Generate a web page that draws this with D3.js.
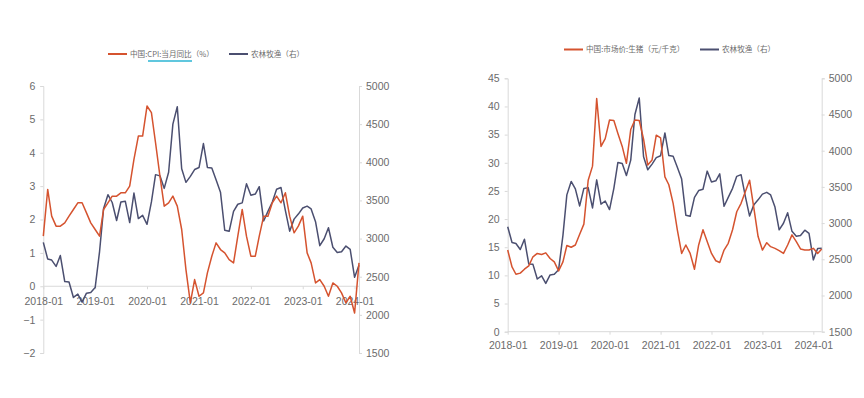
<!DOCTYPE html>
<html>
<head>
<meta charset="utf-8">
<script src="https://cdn.jsdelivr.net/npm/d3@7"></script>
<style>
  body { margin: 0; background: #fff; }
  svg { display: block; }
  .tick text { font-family: "Liberation Sans Narrow", "Liberation Sans", Arial, sans-serif; font-size: 10.5px; fill: #6b6b6b; }
  .legend text { font-family: "Noto Sans CJK SC", sans-serif; font-size: 7.6px; fill: #6b6b6b; }
</style>
</head>
<body>
<svg id="chart" width="864" height="398"></svg>
<script>
// months shown on both charts
var months = d3.timeMonth.range(new Date(2018, 0, 1), new Date(2024, 3, 1));
var yearTicks = ["2018-01", "2019-01", "2020-01", "2021-01", "2022-01", "2023-01", "2024-01"];

// 中国:CPI:当月同比 (%)
var cpi = [1.5, 2.9, 2.1, 1.8, 1.8, 1.9, 2.1, 2.3, 2.5, 2.5, 2.2, 1.9,
  1.7, 1.5, 2.3, 2.5, 2.7, 2.7, 2.8, 2.8, 3.0, 3.8, 4.5, 4.5,
  5.4, 5.2, 4.3, 3.3, 2.4, 2.5, 2.7, 2.4, 1.7, 0.5, -0.5, 0.2,
  -0.3, -0.2, 0.4, 0.9, 1.3, 1.1, 1.0, 0.8, 0.7, 1.5, 2.3, 1.5,
  0.9, 0.9, 1.5, 2.1, 2.1, 2.5, 2.7, 2.5, 2.8, 2.1, 1.6, 1.8,
  2.1, 1.0, 0.7, 0.1, 0.2, 0.0, -0.3, 0.1, 0.0, -0.2, -0.5, -0.3,
  -0.8, 0.7];

// 中国:市场价:生猪 (元/千克)
var hog = [14.5, 11.5, 10.2, 10.4, 11.1, 11.7, 13.3, 13.9, 13.7, 14.0, 13.0, 12.4,
  10.8, 12.4, 15.3, 15.0, 15.4, 17.3, 19.1, 26.9, 29.4, 41.4, 32.9, 34.3,
  37.6, 37.5, 35.2, 32.9, 29.9, 35.9, 37.6, 37.5, 34.2, 29.6, 30.5, 34.9,
  34.4, 27.5, 26.1, 22.8, 18.1, 13.9, 15.4, 13.9, 11.1, 15.4, 18.1, 16.0,
  13.9, 12.6, 12.3, 14.5, 15.7, 18.1, 21.3, 22.8, 24.9, 26.9, 21.9, 16.9,
  14.5, 15.8, 15.1, 14.8, 14.4, 13.9, 15.4, 17.2, 16.0, 14.7, 14.5, 14.5,
  14.8, 13.9, 14.7];

// 农林牧渔 (右)
var agri = [2950, 2732, 2718, 2635, 2778, 2436, 2430, 2228, 2272, 2167, 2284, 2292,
  2357, 2830, 3390, 3575, 3473, 3237, 3479, 3490, 3210, 3597, 3262, 3305,
  3187, 3480, 3838, 3822, 3658, 3870, 4500, 4728, 3916, 3737, 3815, 3905,
  3931, 4245, 3933, 3924, 3770, 3608, 3109, 3095, 3356, 3450, 3468, 3718,
  3568, 3584, 3680, 3232, 3356, 3480, 3646, 3669, 3366, 3097, 3255, 3321,
  3400, 3425, 3389, 3221, 2907, 2998, 3142, 2886, 2817, 2828, 2902, 2858,
  2492, 2650, 2652];

var red = "#d5532f", navy = "#4b4f70", axisGrey = "#d9d9d9";
var svg = d3.select("#chart");

function styleAxis(g) {
  g.select(".domain").attr("stroke", axisGrey);
  g.selectAll(".tick line").attr("stroke", axisGrey);
}

function drawPanel(p) {
  var n = p.left.length;
  var x = d3.scaleTime().domain([months[0], months[n - 1]]).range([p.x0, p.x1]);
  var yL = d3.scaleLinear().domain(p.leftDomain).range([p.y1, p.y0]);
  var yR = d3.scaleLinear().domain([1500, 5000]).range([p.y1, p.y0]);
  var parse = d3.timeParse("%Y-%m");
  var g = svg.append("g");

  g.append("g").attr("transform", "translate(" + p.x0 + ",0)")
    .call(d3.axisLeft(yL).tickValues(p.leftTicks).tickSize(3).tickPadding(5).tickFormat(d3.format("d")))
    .call(styleAxis);
  g.append("g").attr("transform", "translate(" + p.x1 + ",0)")
    .call(d3.axisRight(yR).tickValues(d3.range(1500, 5001, 500)).tickSize(3).tickPadding(4).tickFormat(d3.format("d")))
    .call(styleAxis);
  g.append("g").attr("transform", "translate(0," + yL(0) + ")")
    .call(d3.axisBottom(x).tickValues(yearTicks.map(parse)).tickSize(3).tickPadding(p.xPad).tickFormat(d3.timeFormat("%Y-%m")))
    .call(styleAxis)
    .call(function (a) { a.select(".domain").attr("d", "M" + p.x0 + ",0H" + p.x1); });

  var lineL = d3.line().x(function (d, i) { return x(months[i]); }).y(function (d) { return yL(d); });
  var lineR = d3.line().x(function (d, i) { return x(months[i]); }).y(function (d) { return yR(d); });

  g.append("path").datum(p.right).attr("fill", "none").attr("stroke", navy)
    .attr("stroke-width", 1.5).attr("stroke-linejoin", "round").attr("d", lineR);
  g.append("path").datum(p.left).attr("fill", "none").attr("stroke", red)
    .attr("stroke-width", 1.5).attr("stroke-linejoin", "round").attr("d", lineL);

  // legend
  var lg = svg.append("g").attr("class", "legend");
  lg.append("line").attr("x1", p.leg[0]).attr("x2", p.leg[0] + 19).attr("y1", p.legY).attr("y2", p.legY)
    .attr("stroke", red).attr("stroke-width", 2);
  lg.append("text").attr("x", p.leg[0] + 22).attr("y", p.legY + 2.8).text(p.leftName);
  lg.append("line").attr("x1", p.leg[1]).attr("x2", p.leg[1] + 19).attr("y1", p.legY).attr("y2", p.legY)
    .attr("stroke", navy).attr("stroke-width", 2);
  lg.append("text").attr("x", p.leg[1] + 22).attr("y", p.legY + 2.8).text("农林牧渔（右）");
  return lg;
}

var lg1 = drawPanel({
  left: cpi, right: agri.slice(0, cpi.length),
  x0: 43.3, x1: 359, y0: 86, y1: 353,
  leftDomain: [-2, 6], leftTicks: d3.range(-2, 7, 1), xPad: 8,
  leg: [108, 229], legY: 54, leftName: "中国:CPI:当月同比（%）"
});
// spell-check style underline seen in the source image
lg1.append("line").attr("x1", 148).attr("x2", 192).attr("y1", 61).attr("y2", 61)
  .attr("stroke", "#2bb5d3").attr("stroke-width", 1.3);

drawPanel({
  left: hog, right: agri,
  x0: 507.7, x1: 821.7, y0: 78.3, y1: 331.7,
  leftDomain: [0, 45], leftTicks: d3.range(0, 46, 5), xPad: 7,
  leg: [564, 700], legY: 49.5, leftName: "中国:市场价:生猪（元/千克）"
});
</script>
</body>
</html>
